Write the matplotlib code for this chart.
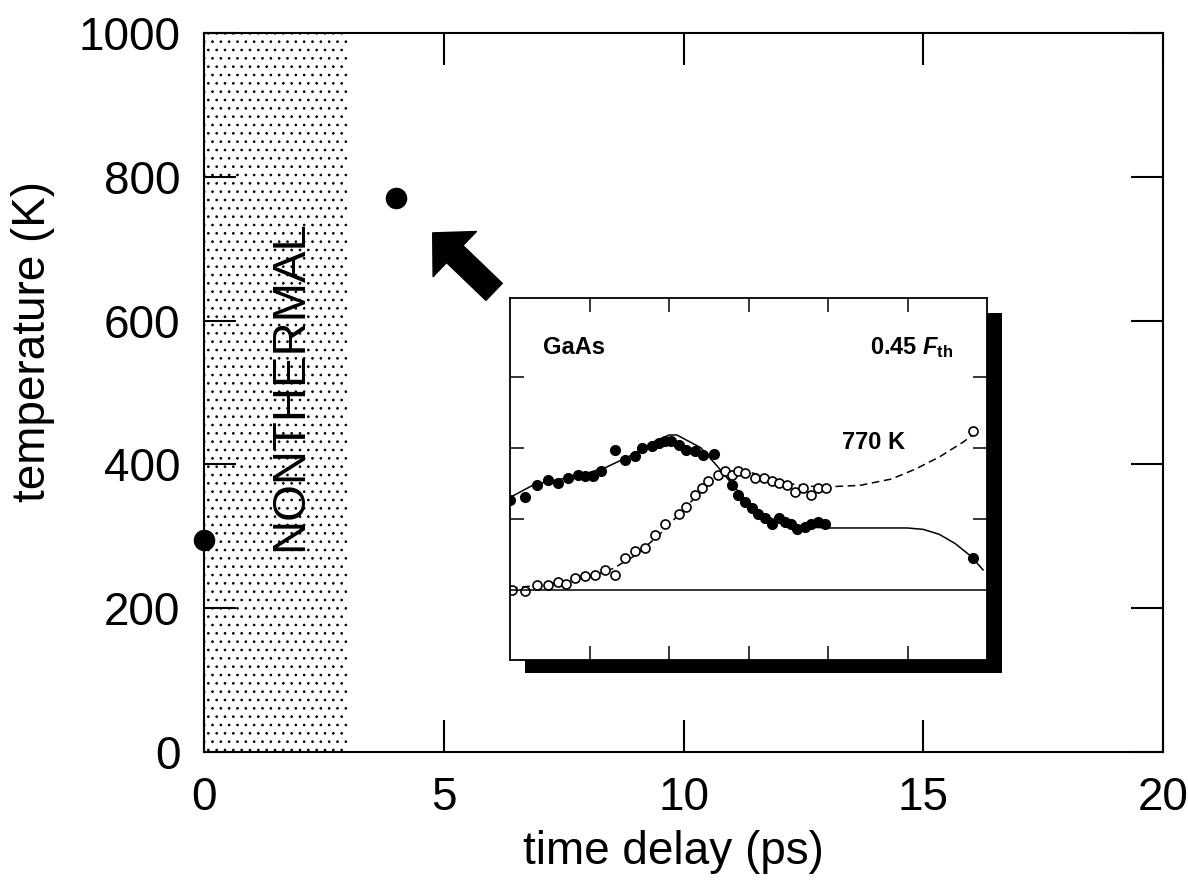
import numpy as np
import matplotlib
matplotlib.use('Agg')
import matplotlib.pyplot as plt
from matplotlib.patches import Rectangle, FancyArrowPatch

plt.rcParams['font.family'] = ['Liberation Sans', 'DejaVu Sans']
plt.rcParams['mathtext.fontset'] = 'custom'
plt.rcParams['mathtext.it'] = 'Liberation Sans:italic:bold'
plt.rcParams['mathtext.rm'] = 'Liberation Sans:bold'
plt.rcParams['hatch.linewidth'] = 0.7

# main panel data
delay = [0, 4]
temp = [295, 770]

# inset: filled dots (solid fit) and open circles (dashed fit), arbitrary units
fill_x = [0.0, 0.19, 0.34, 0.48, 0.61, 0.73, 0.86, 0.94, 1.05, 1.15, 1.32, 1.45, 1.57, 1.66,
          1.78, 1.87, 1.95, 2.03, 2.12, 2.22, 2.33, 2.43, 2.56, 2.79, 2.87, 2.96, 3.04, 3.12,
          3.21, 3.29, 3.38, 3.46, 3.54, 3.61, 3.71, 3.79, 3.88, 3.96, 5.83]
fill_y = [1.27, 1.30, 1.48, 1.55, 1.50, 1.57, 1.62, 1.60, 1.60, 1.67, 1.97, 1.83, 1.88, 2.00,
          2.02, 2.07, 2.09, 2.09, 2.04, 1.97, 1.95, 1.90, 1.91, 1.48, 1.34, 1.24, 1.15, 1.06,
          1.01, 0.92, 1.01, 0.96, 0.92, 0.85, 0.89, 0.92, 0.96, 0.92, 0.45]
open_x = [0.02, 0.19, 0.34, 0.48, 0.61, 0.71, 0.82, 0.94, 1.07, 1.19, 1.32, 1.45, 1.57, 1.70,
          1.82, 1.95, 2.12, 2.22, 2.33, 2.41, 2.49, 2.62, 2.70, 2.79, 2.87, 2.96, 3.08, 3.19,
          3.29, 3.38, 3.48, 3.58, 3.69, 3.79, 3.88, 3.98, 5.83]
open_y = [0.00, -0.02, 0.07, 0.07, 0.11, 0.08, 0.16, 0.19, 0.21, 0.28, 0.21, 0.45, 0.54, 0.59,
          0.77, 0.92, 1.06, 1.17, 1.34, 1.43, 1.53, 1.62, 1.67, 1.62, 1.67, 1.64, 1.57, 1.57,
          1.53, 1.50, 1.48, 1.38, 1.43, 1.34, 1.43, 1.43, 2.23]
solid_x = [0, 0.3, 0.6, 0.9, 1.2, 1.5, 1.8, 2.0, 2.1, 2.2, 2.4, 2.6, 2.8, 3.0, 3.2, 3.4, 3.6,
           3.8, 4.0, 4.5, 5.0, 5.2, 5.4, 5.6, 5.8, 5.95]
solid_y = [1.30, 1.48, 1.55, 1.62, 1.72, 1.88, 2.08, 2.18, 2.18, 2.12, 2.0, 1.75, 1.48, 1.22,
           1.05, 0.95, 0.90, 0.88, 0.87, 0.87, 0.87, 0.85, 0.78, 0.65, 0.47, 0.28]
dash_x = [0, 0.5, 1.0, 1.3, 1.6, 1.9, 2.2, 2.5, 2.7, 2.9, 3.1, 3.4, 3.7, 4.0, 4.4, 4.8, 5.1,
          5.4, 5.7, 5.92]
dash_y = [0.02, 0.08, 0.18, 0.30, 0.50, 0.80, 1.15, 1.50, 1.65, 1.69, 1.63, 1.52, 1.46, 1.45,
          1.47, 1.56, 1.70, 1.87, 2.08, 2.26]

W, H = 1188, 892
fig = plt.figure(figsize=(W/100, H/100), dpi=100)
ax = fig.add_axes([204/W, 1-752/H, (1163-204)/W, (752-33)/H])

# nonthermal band
ax.add_patch(Rectangle((0, 0), 3, 1000, facecolor='white', edgecolor='black',
                       hatch='..', lw=0, zorder=0))
ax.text(1.79, 510, 'NONTHERMAL', rotation=90, ha='center', va='center', fontsize=34)

ax.plot(delay, temp, 'o', color='black', ms=14.5, clip_on=False, zorder=5)

ax.add_patch(FancyArrowPatch((6.05, 640), (4.77, 722),
                             arrowstyle='simple,head_width=45,head_length=22,tail_width=17',
                             color='black', shrinkA=0, shrinkB=0, mutation_scale=1))

ax.set_xlim(0, 20)
ax.set_ylim(0, 1000)
ax.set_xticks([0, 5, 10, 15, 20])
ax.set_yticks([0, 200, 400, 600, 800, 1000])
ax.tick_params(direction='in', length=23, width=1.5, top=True, right=True,
               labelsize=33, pad=17)
for s in ax.spines.values():
    s.set_linewidth(1.5)

fig.text(33/W, 1-342/H, 'temperature (K)', rotation=90, ha='center', va='center', fontsize=33)
fig.text(673/W, 1-852/H, 'time delay (ps)', ha='center', va='center', fontsize=33)

# inset with drop shadow
shadow = Rectangle((525/W, 1-673/H), (1002-525)/W, (673-313)/H, transform=fig.transFigure,
                   facecolor='black', edgecolor='none', zorder=2)
fig.add_artist(shadow)
axi = fig.add_axes([510/W, 1-660/H, (987-510)/W, (660-298)/H], zorder=3)
axi.set_facecolor('white')
axi.plot(solid_x, solid_y, '-', color='black', lw=1.1)
axi.plot(dash_x, dash_y, color='black', lw=1.1, dashes=(5, 3))
axi.plot(fill_x, fill_y, 'o', color='black', ms=7)
axi.plot(open_x, open_y, 'o', mfc='white', mec='black', mew=1.2, ms=6.5)
axi.axhline(0, color='black', lw=1.1)
axi.set_xlim(0, 6)
axi.set_ylim(-0.99, 4.11)
axi.set_xticks([1, 2, 3, 4, 5])
axi.set_yticks([1, 2, 3])
axi.tick_params(direction='in', length=10, width=1.1, top=True, right=True,
                labelbottom=False, labelleft=False)
for s in axi.spines.values():
    s.set_linewidth(1.3)
axi.text(0.41, 3.41, 'GaAs', fontsize=17, fontweight='bold', va='center')
axi.text(5.58, 3.41, r'0.45 $\mathit{F}_{\mathrm{th}}$', fontsize=17, fontweight='bold',
         ha='right', va='center')
axi.text(4.18, 2.07, '770 K', fontsize=17, fontweight='bold', va='center')

fig.savefig('out.png', dpi=100)
